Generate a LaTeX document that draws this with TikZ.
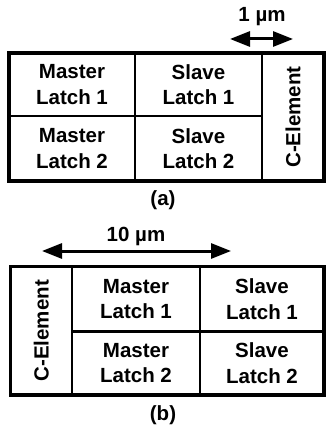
\documentclass[tikz,border=0pt]{standalone}
\usepackage{fontspec}
\setmainfont{Liberation Sans}
\usetikzlibrary{arrows.meta}
\tikzset{
  cell/.style={draw, line width=2.6pt, rectangle, inner sep=0pt, align=center,
    font=\bfseries\fontsize{20.5}{25.5}\selectfont},
  frame/.style={draw, line width=3.4pt},
  dim/.style={line width=3pt, {Triangle[length=20pt,width=15pt]}-{Triangle[length=20pt,width=15pt]}},
  lbl/.style={font=\bfseries\fontsize{20.5}{24}\selectfont, inner sep=0pt}
}
\begin{document}
\begin{tikzpicture}[x=1pt,y=-1pt]
\useasboundingbox (0,0) rectangle (326,430);

% ---- (a): C-element on the right ----
\node[cell, minimum width=126pt, minimum height=63pt] (aM1) at (72,84.5) {Master\\Latch 1};
\node[cell, minimum width=127pt, minimum height=63pt] (aS1) at (198.5,84.5) {Slave\\Latch 1};
\node[cell, minimum width=126pt, minimum height=65pt] (aM2) at (72,148.5) {Master\\Latch 2};
\node[cell, minimum width=127pt, minimum height=65pt] (aS2) at (198.5,148.5) {Slave\\Latch 2};
\node[cell, rotate=90, minimum width=128pt, minimum height=62pt] (aC) at (293,117) {C-Element};
\draw[frame] (9,53) rectangle (324,181);

\coordinate (aL) at (230,39);
\coordinate (aR) at (293,39);
\draw[dim] (aL) -- (aR);
\node[lbl] (aT) at (262,17) {1 µm};
\node[lbl] (acap) at (163,200) {(a)};

% ---- (b): C-element on the left ----
\node[cell, rotate=90, minimum width=128.5pt, minimum height=61.5pt] (bC) at (41.25,330.75) {C-Element};
\node[cell, minimum width=128pt, minimum height=65pt] (bM1) at (136,299) {Master\\Latch 1};
\node[cell, minimum width=124pt, minimum height=65pt] (bS1) at (262,299) {Slave\\Latch 1};
\node[cell, minimum width=128pt, minimum height=63.5pt] (bM2) at (136,363.25) {Master\\Latch 2};
\node[cell, minimum width=124pt, minimum height=63.5pt] (bS2) at (262,363.25) {Slave\\Latch 2};
\draw[frame] (10.5,266.5) rectangle (324,395);

\coordinate (bL) at (42,251);
\coordinate (bR) at (231,251);
\draw[dim] (bL) -- (bR);
\node[lbl] (bT) at (136,236) {10 µm};
\node[lbl] (bcap) at (163,415) {(b)};
\end{tikzpicture}
\end{document}
